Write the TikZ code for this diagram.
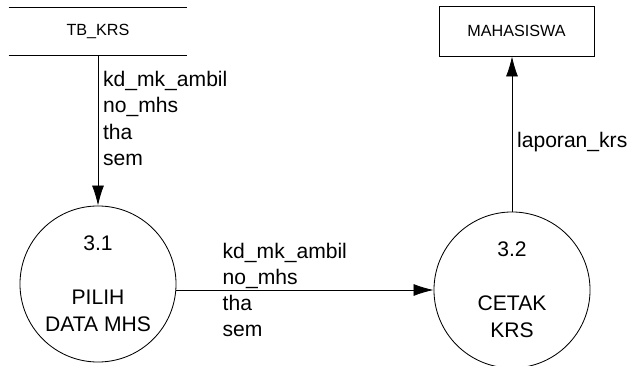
\documentclass[tikz,border=0pt]{standalone}
\usepackage{fontspec}
\setmainfont{Liberation Sans}
\usetikzlibrary{arrows.meta}

\begin{document}
\begin{tikzpicture}[x=0.025cm,y=-0.025cm,line width=0.6pt]
            \tikzstyle{process}=[draw,circle,inner sep=0pt,minimum size=3.9cm,align=center,font=\fontsize{15}{19.2}\selectfont]
            \tikzstyle{entity}=[draw,rectangle,minimum width=3.875cm,minimum height=1.25cm,font=\fontsize{11.5}{14}\selectfont]
            \tikzstyle{store}=[rectangle,minimum width=4.45cm,minimum height=1.175cm,font=\fontsize{11.5}{14}\selectfont]
            \tikzstyle{flow}=[-{Latex[length=0.5cm,width=0.3cm]}]
            \tikzstyle{data}=[align=left,font=\fontsize{15}{18.6}\selectfont]

            \useasboundingbox (0,0) rectangle (638,366);

            \node (TB) at (98,31.5) [store] {TB\_KRS};
            \draw (TB.north west) -- (TB.north east);
            \draw (TB.south west) -- (TB.south east);
            \node (MHS) at (516.5,31) [entity] {MAHASISWA};
            \node (P1) at (98,284) [process] {3.1\\[19pt]PILIH\\DATA MHS};
            \node (P2) at (512,290) [process] {3.2\\[19pt]CETAK\\KRS};

            \draw[flow] (TB) to node[data,pos=.42,right] {kd\_mk\_ambil\\no\_mhs\\tha\\sem} (P1);
            \draw[flow] (P1.east |- P2.west) to node[data,pos=.16,anchor=west] {kd\_mk\_ambil\\no\_mhs\\tha\\sem} (P2.west);
            \draw[flow] (P2) to node[data,pos=.45,right] {laporan\_krs} (P2 |- MHS.south);
          \end{tikzpicture}
\end{document}
